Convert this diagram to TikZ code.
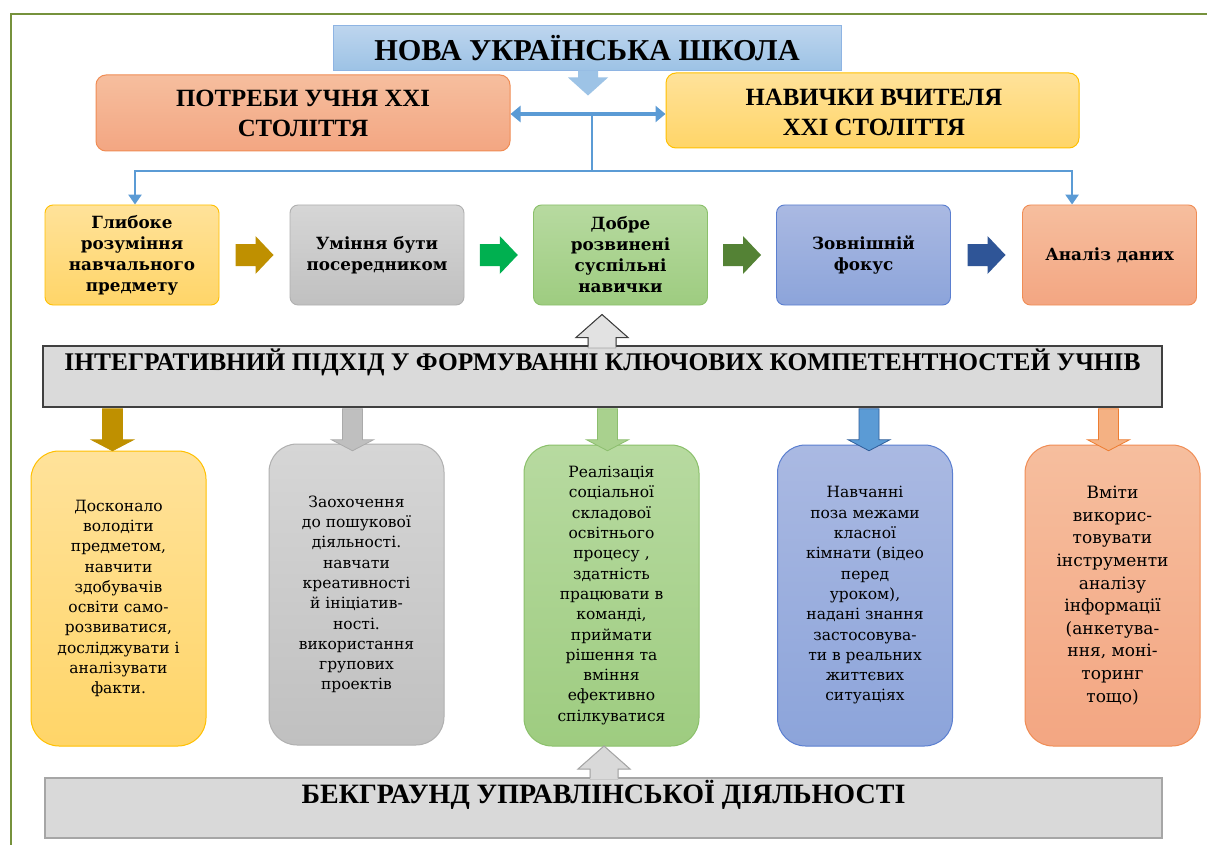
\documentclass[tikz,border=0pt]{standalone}
\usepackage{fontspec}
\setmainfont{Liberation Serif}
\newfontfamily\dvs{DejaVu Serif}
\usetikzlibrary{calc,arrows.meta}
\definecolor{cFrame}{HTML}{76923C}
\definecolor{cLine}{HTML}{5B9BD5}
\definecolor{cGold}{HTML}{BF9000}
\definecolor{cGreenA}{HTML}{00B050}
\definecolor{cGreenB}{HTML}{548235}
\definecolor{cNavy}{HTML}{2F5597}
\newcommand\myMidFont{\dvs\bfseries\fontsize{16.8}{21}\selectfont}
\newcommand\myLowFont{\dvs\fontsize{15.5}{20.3}\selectfont}
\newcommand\myLowFontB{\dvs\fontsize{17}{22.6}\selectfont}
\begin{document}
\begin{tikzpicture}[x=1pt,y=-1pt,
  conn/.style={draw=cLine, line width=2.8pt},
  hdr/.style={font=\bfseries, align=center, inner sep=0pt},
  bigbox/.style={rectangle, line width=1pt, align=center, inner sep=0pt},
  midbox/.style={rectangle, rounded corners=8pt, line width=0.9pt, minimum width=174pt, minimum height=100pt, align=center, inner sep=1pt, font=\myMidFont},
  lowbox/.style={rectangle, rounded corners=28pt, line width=1pt, minimum width=175pt, minimum height=301pt, align=center, inner sep=1pt, font=\myLowFont},
  fBlueT/.style={top color={rgb,255:red,189;green,213;blue,238}, bottom color={rgb,255:red,156;green,194;blue,229}, draw={rgb,255:red,142;green,180;blue,227}},
  fOrange/.style={top color={rgb,255:red,246;green,190;blue,158}, bottom color={rgb,255:red,243;green,166;blue,130}, draw={rgb,255:red,240;green,141;blue,85}},
  fYellow/.style={top color={rgb,255:red,255;green,226;blue,154}, bottom color={rgb,255:red,255;green,213;blue,104}, draw={rgb,255:red,255;green,192;blue,0}},
  fGrey/.style={top color={rgb,255:red,214;green,214;blue,214}, bottom color={rgb,255:red,192;green,192;blue,192}, draw={rgb,255:red,176;green,176;blue,176}},
  fGreen/.style={top color={rgb,255:red,183;green,218;blue,160}, bottom color={rgb,255:red,158;green,204;blue,128}, draw={rgb,255:red,139;green,192;blue,107}},
  fBlue/.style={top color={rgb,255:red,170;green,185;blue,226}, bottom color={rgb,255:red,140;green,164;blue,218}, draw={rgb,255:red,91;green,127;blue,208}},
  rblock/.pic={\fill[pic actions] (-19,-11) -- (1,-11) -- (1,-19) -- (19,0) -- (1,19) -- (1,11) -- (-19,11) -- cycle;},
  dblock/.pic={\filldraw[pic actions, line width=0.8pt] (-10,1) -- (10,1) -- (10,32) -- (21,32) -- (0,43) -- (-21,32) -- (-10,32) -- cycle;},
  ublock/.pic={\fill[pic actions] (-14,1.5) -- (-14,-9) -- (-26,-9) -- (0,-32) -- (26,-9) -- (14,-9) -- (14,1.5) -- cycle;
               \draw[pic actions, fill=none, line width=1pt] (-14,0) -- (-14,-9) -- (-26,-9) -- (0,-32) -- (26,-9) -- (14,-9) -- (14,0);}
]
\useasboundingbox[fill=white] (0,0) rectangle (1207,845);
% frame
\draw[cFrame, line width=2pt] (11,845) -- (11,14) -- (1207,14);

% top
\node[bigbox, fBlueT, minimum width=508pt, minimum height=45pt] (title) at (587,48.5) {};
\node[hdr, font=\bfseries\fontsize{30.3}{32}\selectfont] (titlet) at (title) {НОВА УКРАЇНСЬКА ШКОЛА};
\node[bigbox, fOrange, rounded corners=10pt, minimum width=414pt, minimum height=76pt] (potr) at (303,113) {};
\node[hdr, font=\bfseries\fontsize{24.8}{30}\selectfont] (potrt) at (303,113) {ПОТРЕБИ УЧНЯ XXI\\СТОЛІТТЯ};
\node[bigbox, fYellow, rounded corners=10pt, minimum width=413pt, minimum height=75pt] (nav) at (872.5,110.5) {};
\node[hdr, font=\bfseries\fontsize{24.8}{30}\selectfont] (navt) at (874,112) {НАВИЧКИ ВЧИТЕЛЯ\\XXI СТОЛІТТЯ};
\fill[fill={rgb,255:red,157;green,195;blue,230}] ($(title.south)+(1,-1)$) -- ++(-10,0) -- ++(0,7) -- ++(-10,0) -- ++(20,18) -- ++(20,-18) -- ++(-10,0) -- ++(0,-7) -- cycle;

% connectors at top
\coordinate (dbl) at (592,114);
\coordinate (hub) at (592,171);
\draw[conn, line width=3.8pt, {Triangle[width=16pt,length=10pt]}-{Triangle[width=16pt,length=10pt]}] (potr.east |- dbl) -- (nav.west |- dbl);
\draw[conn] (dbl) -- (hub);

% middle row
\node[midbox, fYellow] (m1) at (132,255) {Глибоке\\розуміння\\навчального\\предмету};
\node[midbox, fGrey] (m2) at (377,255) {Уміння бути\\посередником};
\node[midbox, fGreen] (m3) at (620.5,255) {Добре\\розвинені\\суспільні\\навички};
\node[midbox, fBlue] (m4) at (863.5,255) {Зовнішній\\фокус};
\node[midbox, fOrange] (m5) at (1109.5,255) {Аналіз даних};

\coordinate (m5in) at ($(m5.north west)!0.286!(m5.north east)$);
\draw[conn, -{Triangle[width=13pt,length=10pt]}] (hub) -| ($(m1.north)+(3,0)$);
\draw[conn, -{Triangle[width=13pt,length=10pt]}] (hub) -| (m5in);

\pic[fill=cGold] at ($(m1.east)!0.5!(m2.west)$) {rblock};
\pic[fill=cGreenA] at ($(m2.east)!0.5!(m3.west)$) {rblock};
\pic[fill=cGreenB] at ($(m3.east)!0.5!(m4.west)$) {rblock};
\pic[fill=cNavy] at ($(m4.east)!0.5!(m5.west)$) {rblock};

% integrative box
\node[bigbox, fill={rgb,255:red,218;green,218;blue,218}, draw={rgb,255:red,64;green,64;blue,64}, line width=1.5pt, minimum width=1119pt, minimum height=61pt] (integ) at (602.5,376.5) {};
\node[hdr, font=\bfseries\fontsize{25.4}{30}\selectfont] (integt) at ($(integ.north)+(0,17)$) {ІНТЕГРАТИВНИЙ ПІДХІД У ФОРМУВАННІ КЛЮЧОВИХ КОМПЕТЕНТНОСТЕЙ УЧНІВ};
\pic[fill={rgb,255:red,226;green,226;blue,226}, draw={rgb,255:red,64;green,64;blue,64}] at (602,346.5) {ublock};

% bottom boxes
\node[lowbox, fYellow, minimum height=295pt] (b1) at (118.5,598.5) {Досконало\\володіти\\предметом,\\навчити\\здобувачів\\освіти само-\\розвиватися,\\досліджувати і\\аналізувати\\факти.};
\node[lowbox, fGrey] (b2) at (356.5,594.5) {Заохочення\\до пошукової\\діяльності.\\навчати\\креативності\\й ініціатив-\\ності.\\використання\\групових\\проектів};
\node[lowbox, fGreen] (b3) at (611.5,595.5) {Реалізація\\соціальної\\складової\\освітнього\\процесу ,\\здатність\\працювати в\\команді,\\приймати\\рішення та\\вміння\\ефективно\\спілкуватися};
\node[lowbox, fBlue] (b4) at (865,595.5) {Навчанні\\поза межами\\класної\\кімнати (відео\\перед\\уроком),\\надані знання\\застосовува-\\ти в реальних\\життєвих\\ситуаціях};
\node[lowbox, fOrange, font=\myLowFontB] (b5) at (1112.5,595.5) {Вміти\\викорис-\\товувати\\інструменти\\аналізу\\інформації\\(анкетува-\\ння, моні-\\торинг\\тощо)};

% down block arrows
\pic[fill=cGold, draw=cGold] at ($(integ.south -| b1.north)+(-6,0)$) {dblock};
\pic[fill={rgb,255:red,191;green,191;blue,191}, draw={rgb,255:red,170;green,170;blue,170}] at ($(integ.south -| b2.north)+(-4,0)$) {dblock};
\pic[fill={rgb,255:red,169;green,209;blue,142}, draw={rgb,255:red,140;green,190;blue,110}] at ($(integ.south -| b3.north)+(-4,0)$) {dblock};
\pic[fill={rgb,255:red,91;green,155;blue,213}, draw={rgb,255:red,46;green,93;blue,154}] at ($(integ.south -| b4.north)+(4,0)$) {dblock};
\pic[fill={rgb,255:red,244;green,177;blue,131}, draw={rgb,255:red,237;green,125;blue,49}] at ($(integ.south -| b5.north)+(-4,0)$) {dblock};

% background box
\node[bigbox, fill={rgb,255:red,217;green,217;blue,217}, draw={rgb,255:red,166;green,166;blue,166}, line width=1.5pt, minimum width=1117pt, minimum height=60pt] (back) at (603.5,808) {};
\node[hdr, font=\bfseries\fontsize{28}{30}\selectfont] (backt) at ($(back.north)+(0,18)$) {БЕКГРАУНД УПРАВЛІНСЬКОЇ ДІЯЛЬНОСТІ};
\pic[fill={rgb,255:red,217;green,217;blue,217}, draw={rgb,255:red,166;green,166;blue,166}] at (604,778) {ublock};
\end{tikzpicture}
\end{document}
